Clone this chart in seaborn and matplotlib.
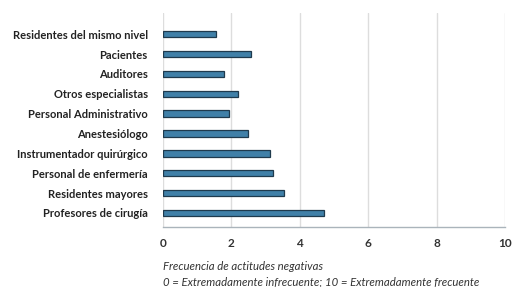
import matplotlib
matplotlib.use("Agg")
import matplotlib.pyplot as plt
import seaborn as sns
import pandas as pd

categories = ["Residentes del mismo nivel", "Pacientes", "Auditores", "Otros especialistas",
              "Personal Administrativo", "Anestesiólogo", "Instrumentador quirúrgico",
              "Personal de enfermería", "Residentes mayores", "Profesores de cirugía"]
values = [1.55, 2.57, 1.78, 2.19, 1.93, 2.48, 3.13, 3.22, 3.54, 4.71]
xticks = [0, 2, 4, 6, 8, 10]

df = pd.DataFrame({"cat": categories, "val": values})

sns.set_theme(style="white")
plt.rcParams['font.family'] = ['Lato', 'DejaVu Sans']

fig = plt.figure(figsize=(5.15, 2.87), dpi=100)
ax = fig.add_axes([0.3165, 0.209, 0.664, 0.746])

sns.barplot(data=df, y="cat", x="val", orient="h", color="#4080a8", saturation=1,
            width=0.32, edgecolor="#1f3a4d", linewidth=0.9, ax=ax)

ax.set_xlim(0, 10)
ax.set_ylim(9.71, -1.07)
ax.set_xticks(xticks)
ax.set_xticklabels([str(t) for t in xticks], fontsize=8.5, fontweight="bold", color="#333333")
ax.tick_params(axis="y", labelsize=8, length=0, pad=11)
ax.tick_params(axis="x", length=0, pad=8)
for lbl in ax.get_yticklabels():
    lbl.set_fontweight("bold")
    lbl.set_color("#222222")
ax.set_xlabel("")
ax.set_ylabel("")
ax.grid(axis="x", color="#dddddd", linewidth=1)
ax.set_axisbelow(True)
for s in ["top", "right", "left"]:
    ax.spines[s].set_visible(False)
ax.spines["bottom"].set_color("#aab4bb")
ax.spines["bottom"].set_linewidth(1)

fig.text(163/515, 1 - 266/287, "Frecuencia de actitudes negativas", fontsize=8.2,
         style="italic", color="#333333", va="center", ha="left")
fig.text(163/515, 1 - 282/287, "0 = Extremadamente infrecuente; 10 = Extremadamente frecuente",
         fontsize=8.2, style="italic", color="#333333", va="center", ha="left")

fig.savefig("out.png", dpi=100)
